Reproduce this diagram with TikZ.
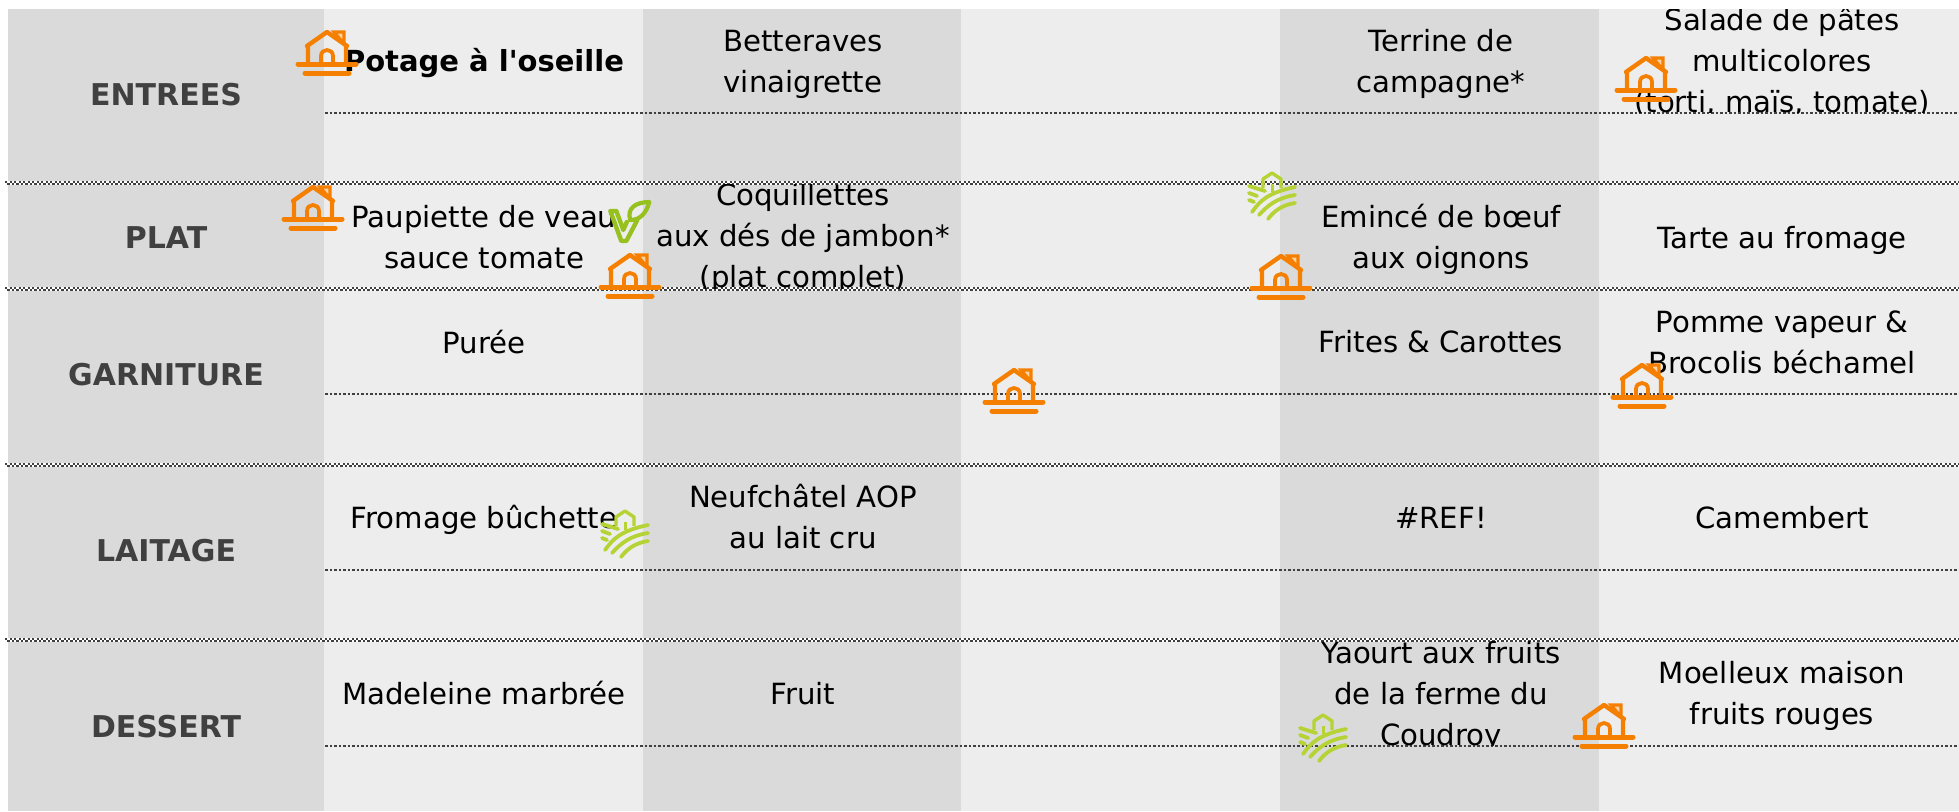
\documentclass[tikz,border=0pt]{standalone}
\usepackage{fontspec}
\setmainfont{DejaVu Sans}[Ligatures=TeXOff]
\definecolor{bandD}{HTML}{DADADA}
\definecolor{bandL}{HTML}{EDEDED}
\definecolor{rule}{HTML}{404040}
\definecolor{hdr}{HTML}{404040}
\definecolor{ora}{HTML}{F57F00}
\definecolor{fieldg}{HTML}{B5D334}
\definecolor{veg}{HTML}{97C11F}
\tikzset{
  x=1pt,y=-1pt,
  cell/.style={inner sep=0pt,outer sep=0pt,anchor=base,align=center,font=\fontsize{29.2}{41}\selectfont,text=black},
  boldcell/.style={cell,font=\fontsize{29}{41}\selectfont\bfseries},
  hdrcell/.style={inner sep=0pt,anchor=base,font=\fontsize{30}{41}\selectfont\bfseries,text=hdr},
  thinrule/.style={draw=rule,line width=2.7pt,dash pattern=on 2.7pt off 1.8pt},
  houseicon/.pic={
    \draw[ora,line width=5pt,line cap=round] (-29,0)--(29,0) (-22,9)--(22,9);
    \draw[ora,line width=4.4pt,line cap=round,line join=round] (-19,-1)--(-19,-18) (19,-1)--(19,-18)
      (-20,-18)--(0,-32)--(20,-18);
    \draw[ora,line width=3.2pt,line join=miter,fill=ora!35!white] (7,-32)--(17,-32)--(17,-20)--cycle;
    \draw[ora,line width=3.8pt] (-6,-1)--(-6,-8) .. controls (-6,-16) and (6,-16) .. (6,-8) --(6,-1);
  },
  fieldicon/.pic={
    \draw[fieldg,line width=3.4pt,line join=round] (-9,-7)--(-9,-16)--(0,-22)--(9,-16)--(9,-7);
    \draw[fieldg,line width=3pt] (0,-3)--(0,-11);
    \draw[fieldg,line width=3.8pt,line cap=round]
      (23,-8) .. controls (-5,-2) and (-12,6) .. (-20,17)
      (23,0) .. controls (5,3) and (-4,10) .. (-13,20)
      (23,8) .. controls (10,10) and (2,16) .. (-4,24)
      (-23,-9)--(-7,-4)
      (-23,-2)--(-15,1)
      (-23,5)--(-18,7);
  },
  vegicon/.pic={
    \draw[veg,line width=4.4pt,line join=round,line cap=round]
      (-12,-9)--(-18,-9)--(-7,21)--(-2,21)--(9,0)
      (-12,-9)--(-5,10)--(-1.5,2);
    \draw[veg,line width=4.2pt,line join=round,line cap=round]
      (2,0) .. controls (-2,-12) and (8,-18) .. (21,-18)
      .. controls (18,-7) and (12,0) .. (2,0);
  }
}
\newcommand\fullrule[1]{%
  \fill[white] (5,#1-1.8) rectangle (1959,#1+1.8);
  \draw[rule,line width=1.7pt,dash pattern=on 2.25pt off 2.25pt] (5,#1-.9)--(1959,#1-.9);
  \draw[rule,line width=1.7pt,dash pattern=on 2.25pt off 2.25pt,dash phase=2.25pt] (5,#1+.9)--(1959,#1+.9);
}
\begin{document}
\begin{tikzpicture}
\useasboundingbox (0,0) rectangle (1959,811);
\fill[white] (0,0) rectangle (1959,811);
% bands
\fill[bandD] (8,9) rectangle (324,811);
\fill[bandL] (324,9) rectangle (643,811);
\fill[bandD] (643,9) rectangle (961,811);
\fill[bandL] (961,9) rectangle (1280,811);
\fill[bandD] (1280,9) rectangle (1599,811);
\fill[bandL] (1599,9) rectangle (1959,811);
% rules
\fullrule{183}\fullrule{289}\fullrule{465}\fullrule{640}
\foreach \yy in {113,394,570,746}{\path[thinrule] (325,\yy)--(1959,\yy);}
% headers
\node[hdrcell] (hEntrees) at (166,105) {ENTREES};
\node[hdrcell] (hPlat) at (166,248) {PLAT};
\node[hdrcell] (hGarn) at (166,385) {GARNITURE};
\node[hdrcell] (hLait) at (166,561) {LAITAGE};
\node[hdrcell] (hDess) at (166,737) {DESSERT};
% cells: anchor=base
\node[boldcell] (potage) at (484,71) {Potage à l'oseille};
\node[cell] (bett) at (803,92) {Betteraves\\vinaigrette};
\node[cell] (terr) at (1441,92) {Terrine de\\campagne*};
\begin{scope}
\clip (1600,9) rectangle (1959,112);
\node[cell] (sal) at (1782,112) {Salade de pâtes\\multicolores\\(torti, maïs, tomate)};
\end{scope}
\node[cell] (paup) at (484,268) {Paupiette de veau\\sauce tomate};
\begin{scope}
\clip (643,184) rectangle (961,288);
\node[cell] (coq) at (803,287) {Coquillettes\\aux dés de jambon*\\(plat complet)};
\end{scope}
\node[cell] (emin) at (1441,268) {Emincé de bœuf\\aux oignons};
\node[cell] (tarte) at (1782,248) {Tarte au fromage};
\node[cell] (puree) at (484,353) {Purée};
\node[cell] (frites) at (1441,352) {Frites \& Carottes};
\node[cell] (pomme) at (1782,373) {Pomme vapeur \&\\Brocolis béchamel};
\node[cell] (from) at (484,528) {Fromage bûchette};
\node[cell] (neuf) at (803,548) {Neufchâtel AOP\\au lait cru};
\node[cell] (ref) at (1441,528) {\#REF!};
\node[cell] (cam) at (1782,528) {Camembert};
\node[cell] (mad) at (484,704) {Madeleine marbrée};
\node[cell] (fruit) at (803,704) {Fruit};
\begin{scope}
\clip (1280,641) rectangle (1599,745);
\node[cell] (yaourt) at (1441,745) {Yaourt aux fruits\\de la ferme du\\Coudroy};
\end{scope}
\node[cell] (moel) at (1782,724) {Moelleux maison\\fruits rouges};
% icons
\pic at (327,64) {houseicon};
\pic at (1646,90) {houseicon};
\pic at (313,219) {houseicon};
\pic at (630,287) {houseicon};
\pic at (1281,288) {houseicon};
\pic at (1014,402) {houseicon};
\pic at (1642,397) {houseicon};
\pic at (1604,737) {houseicon};
\pic at (628.3,220) {vegicon};
\pic at (1272,195) {fieldicon};
\pic at (625,533) {fieldicon};
\pic at (1323,737) {fieldicon};
\end{tikzpicture}
\end{document}
